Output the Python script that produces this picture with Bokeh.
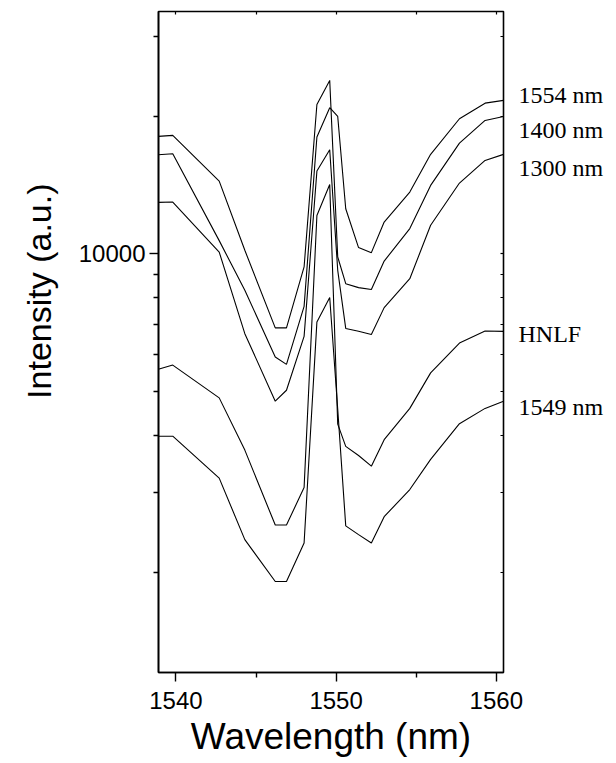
import math
from bokeh.plotting import figure
from bokeh.models import FixedTicker, LinearAxis, LogAxis, Title, BasicTickFormatter
from bokeh.embed import file_html
from bokeh.resources import INLINE

# ---- data ----
wavelength = [1538.9, 1539.8, 1542.7, 1544.3, 1546.2, 1546.9, 1548.0, 1548.8, 1549.6,
              1550.1, 1550.6, 1551.4, 1552.2, 1553.0, 1554.6, 1555.9, 1557.7, 1559.3, 1560.45]

int_1554 = [16500, 16580, 10690, 8320, 5940, 5720, 7670, 18040, 20920,
            20020, 12560, 10320, 10060, 11740, 13660, 16530, 19790, 21410, 21710]
int_1400 = [18100, 18190, 14440, 10180, 6880, 6880, 9360, 21270, 24020,
            9840, 8600, 8430, 8350, 9640, 11360, 14130, 17500, 19620, 20020]
int_1300 = [12970, 12990, 10090, 6680, 4750, 5020, 6590, 15190, 16920,
            9200, 6860, 6760, 6650, 7620, 8820, 11550, 14300, 16030, 16530]
int_hnlf = [5580, 5700, 4830, 3710, 2540, 2540, 3070, 12140, 14200,
            4230, 3780, 3610, 3420, 3910, 4580, 5480, 6370, 6770, 6760]
int_1549 = [3980, 3980, 3220, 2360, 1910, 1910, 2320, 7090, 8020,
            4560, 2530, 2420, 2320, 2650, 3040, 3540, 4240, 4580, 4750]

series = [int_1554, int_1400, int_1300, int_hnlf, int_1549]
series_names = ["1554 nm", "1400 nm", "1300 nm", "HNLF", "1549 nm"]
series_label_at = [22270, 18660, 15450, 6680, 4620]

x_major = [1540, 1550, 1560]
x_minor = [1545, 1555]
y_major = [10000]
y_minor = [2000, 3000, 4000, 5000, 6000, 7000, 8000, 9000, 20000, 30000]

SANS = "Liberation Sans"
SERIF = "Liberation Serif"

p = figure(width=616, height=763, x_range=(1538.91, 1560.45), y_range=(1206, 34020),
           y_axis_type="log", output_backend="svg", toolbar_location=None,
           min_border_left=156, min_border_right=113, min_border_top=11, min_border_bottom=91)
p.grid.visible = False
p.outline_line_color = "black"
p.outline_line_width = 1.6
p.background_fill_color = "white"
p.border_fill_color = "white"

for ys in series:
    p.line(wavelength, ys, line_color="black", line_width=1.1)

# bottom axis
xa = p.xaxis[0]
xa.ticker = FixedTicker(ticks=x_major, minor_ticks=x_minor)
xa.major_tick_in = 0
xa.major_tick_out = 9
xa.minor_tick_in = 0
xa.minor_tick_out = 5
xa.axis_line_width = 1.6
xa.major_tick_line_width = 1.4
xa.minor_tick_line_width = 1.4
xa.major_label_text_font = SANS
xa.major_label_text_font_size = "24px"
xa.major_label_text_color = "black"
xa.major_label_standoff = 10
xa.axis_label = "Wavelength (nm)"
xa.axis_label_text_font = SANS
xa.axis_label_text_font_size = "37px"
xa.axis_label_text_font_style = "normal"
xa.axis_label_text_color = "black"
xa.axis_label_standoff = 4

# left axis
ya = p.yaxis[0]
ya.ticker = FixedTicker(ticks=y_major, minor_ticks=y_minor)
ya.formatter = BasicTickFormatter(use_scientific=False)
ya.major_tick_in = 0
ya.major_tick_out = 9
ya.minor_tick_in = 0
ya.minor_tick_out = 5
ya.axis_line_width = 1.6
ya.major_tick_line_width = 1.4
ya.minor_tick_line_width = 1.4
ya.major_label_text_font = SANS
ya.major_label_text_font_size = "24px"
ya.major_label_text_color = "black"
ya.major_label_standoff = 4

# y title, placed in the left panel, shifted upward like the reference
p.add_layout(Title(text="Intensity (a.u.)", align="right", offset=172, standoff=35,
                   text_font=SANS, text_font_size="34px", text_font_style="normal",
                   text_color="black"), "left")

# top axis (inward ticks only, no labels)
top_ticks = x_major + x_minor
top = LinearAxis(ticker=FixedTicker(ticks=top_ticks, minor_ticks=[]),
                 major_tick_in=3, major_tick_out=0, minor_tick_in=0, minor_tick_out=0,
                 major_label_text_font_size="1px", major_label_standoff=0,
                 major_label_overrides={t: "" for t in top_ticks},
                 axis_line_color=None, major_tick_line_width=1.2)
p.add_layout(top, "above")

# right axis (small inward ticks only, no labels)
right = LogAxis(ticker=FixedTicker(ticks=y_major, minor_ticks=y_minor),
                major_tick_in=3, major_tick_out=0, minor_tick_in=3, minor_tick_out=0,
                major_label_text_font_size="1px", major_label_standoff=0,
                major_label_overrides={t: "" for t in y_major},
                axis_line_color=None, major_tick_line_width=1.2, minor_tick_line_width=1.2)
p.add_layout(right, "right")

# series names at the right, as labels of an extra right axis
names_axis = LogAxis(ticker=FixedTicker(ticks=series_label_at, minor_ticks=[]),
                     major_tick_in=0, major_tick_out=0, minor_tick_in=0, minor_tick_out=0,
                     major_label_overrides={v: n for v, n in zip(series_label_at, series_names)},
                     major_label_text_font=SERIF, major_label_text_font_size="24px",
                     major_label_text_color="black", major_label_standoff=15,
                     axis_line_color=None)
p.add_layout(names_axis, "right")

open("out.html", "w").write(file_html(p, INLINE))
